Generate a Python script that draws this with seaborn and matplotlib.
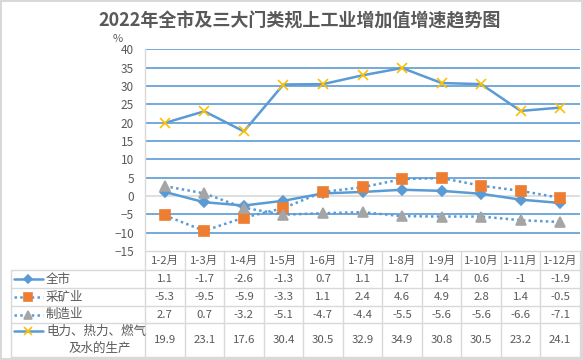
import numpy as np
import pandas as pd
import seaborn as sns
import matplotlib.pyplot as plt
from matplotlib.lines import Line2D

# chart data
months = ['1-2月', '1-3月', '1-4月', '1-5月', '1-6月', '1-7月', '1-8月', '1-9月', '1-10月', '1-11月', '1-12月']
quanshi = [1.1, -1.7, -2.6, -1.3, 0.7, 1.1, 1.7, 1.4, 0.6, -1, -1.9]
caikuang = [-5.3, -9.5, -5.9, -3.3, 1.1, 2.4, 4.6, 4.9, 2.8, 1.4, -0.5]
zhizao = [2.7, 0.7, -3.2, -5.1, -4.7, -4.4, -5.5, -5.6, -5.6, -6.6, -7.1]
dianli = [19.9, 23.1, 17.6, 30.4, 30.5, 32.9, 34.9, 30.8, 30.5, 23.2, 24.1]
series_names = ['全市', '采矿业', '制造业', '电力、热力、燃气\n及水的生产']
y_ticks = list(range(-15, 45, 5))

sns.set_theme(style='white')
plt.rcParams['font.family'] = ['Noto Sans CJK SC', 'DejaVu Sans']

BLUE = '#5B9BD5'
GRID_GREY = '#D9D9D9'
TEXT = '#595959'

W, H = 583, 360
fig = plt.figure(figsize=(W / 100, H / 100), dpi=100)
fig.patch.set_edgecolor(GRID_GREY)
fig.patch.set_linewidth(1.5)

def fx(px):
    return px / W

def fy(py):
    return 1 - py / H

# plot area
top, bot, left, right = 49.3, 251, 145, 580
ax = fig.add_axes([fx(left), fy(bot), fx(right - left), (bot - top) / H])

df = pd.DataFrame({'pos': np.arange(len(months)), '全市': quanshi, '采矿业': caikuang,
                   '制造业': zhizao, '电力': dianli})

styles = [
    dict(col='全市', ls='-', marker='D', mfc=BLUE, ms=5.2),
    dict(col='采矿业', ls=(0, (1, 1.3)), marker='s', mfc='#ED7D31', ms=6.8),
    dict(col='制造业', ls=(0, (1, 1.3)), marker='^', mfc='#A5A5A5', ms=7.2),
    dict(col='电力', ls='-', marker='x', mfc='#FFC000', ms=6.8),
]

for s in styles:
    sns.lineplot(data=df, x='pos', y=s['col'], ax=ax, color=BLUE, lw=1.8,
                 linestyle=s['ls'], marker=s['marker'], markersize=s['ms'],
                 markerfacecolor=s['mfc'], markeredgecolor=s['mfc'],
                 markeredgewidth=1.2, zorder=3)

ax.set_xlim(-0.5, len(months) - 0.5)
ax.set_ylim(-15, 40)
ax.set_yticks(y_ticks)
ax.set_xticks([])
ax.set_xlabel('')
ax.set_ylabel('')
for t in y_ticks:
    if t == 0:
        ax.axhline(t, color=GRID_GREY, lw=1.2, zorder=1)
    elif t != -15:
        ax.axhline(t, color=BLUE, lw=1.2, zorder=1)
for sp in ['top', 'right', 'bottom']:
    ax.spines[sp].set_visible(False)
ax.spines['left'].set_color(GRID_GREY)
ax.spines['left'].set_linewidth(1)
ax.tick_params(axis='y', length=0, pad=8, labelsize=8.5, labelcolor=TEXT)
ax.set_facecolor('none')

fig.text(fx(118), fy(38.5), '%', ha='center', va='center', fontsize=8, color=TEXT)
fig.text(fx(300), fy(21), '2022年全市及三大门类规上工业增加值增速趋势图', ha='center',
         va='center', fontsize=13, fontweight='bold', color=TEXT)

# data table underneath, rows in pixel units
colw = (right - left) / len(months)
tleft = 11
tax = fig.add_axes([fx(tleft), fy(357), fx(right - tleft), (357 - bot) / H])
tax.set_xlim((tleft - left) / colw - 0.5, len(months) - 0.5)
tax.set_ylim(357, bot)
tax.axis('off')

row_edges = [251, 270, 288, 306, 323, 357]
x0 = (tleft - left) / colw - 0.5
lc = dict(color=GRID_GREY, lw=1, clip_on=False)
for i, y in enumerate(row_edges):
    tax.plot([x0 if i > 0 else -0.5, len(months) - 0.5], [y, y], **lc)
for k in range(len(months) + 1):
    tax.plot([k - 0.5, k - 0.5], [251, 357], **lc)
tax.plot([x0, x0], [270, 357], **lc)

for k, m in enumerate(months):
    tax.text(k, 261, m, ha='center', va='center', fontsize=8.2, color=TEXT)

values = [quanshi, caikuang, zhizao, dianli]
for r, (vals, name, s) in enumerate(zip(values, series_names, styles)):
    yc = (row_edges[r + 1] + row_edges[r + 2]) / 2
    for k, v in enumerate(vals):
        tax.text(k, yc, f'{v:g}', ha='center', va='center', fontsize=8.2, color=TEXT)
    # legend key
    kx0 = x0 + 3 / colw
    kx1 = x0 + 32 / colw
    ky = 331 if r == 3 else yc
    tax.add_line(Line2D([kx0, kx1], [ky, ky], color=BLUE, lw=1.8, linestyle=s['ls'],
                        clip_on=False))
    tax.add_line(Line2D([(kx0 + kx1) / 2], [ky], marker=s['marker'], markersize=s['ms'] - 1,
                        markerfacecolor=s['mfc'], markeredgecolor=s['mfc'],
                        markeredgewidth=1.2, clip_on=False))
    if r == 3:
        tax.text(x0 + 35 / colw, 331, '电力、热力、燃气', ha='left', va='center',
                 fontsize=9, color=TEXT)
        tax.text(x0 + 89 / colw, 348, '及水的生产', ha='center', va='center',
                 fontsize=9, color=TEXT)
    else:
        tax.text(x0 + 35 / colw, yc, name, ha='left', va='center', fontsize=9, color=TEXT)

fig.savefig('out.png', dpi=100)
